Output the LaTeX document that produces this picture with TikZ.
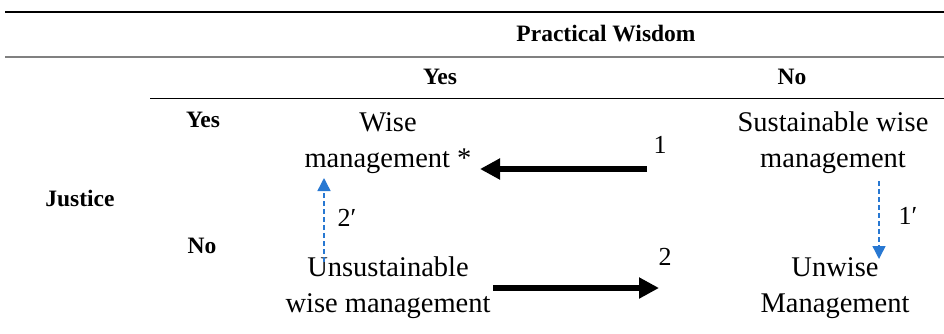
\documentclass[tikz,border=0pt]{standalone}
\usepackage{fontspec}
\setmainfont{Liberation Serif}
\usetikzlibrary{arrows.meta}
\definecolor{dashblue}{RGB}{40,120,210}
\begin{document}
\begin{tikzpicture}[x=1pt,y=-1pt,
  hdr/.style={font=\fontsize{23.5}{26}\selectfont\bfseries, inner sep=0pt},
  cell/.style={font=\fontsize{28.5}{36}\selectfont, align=center, inner sep=0pt},
  num/.style={font=\fontsize{26}{30}\selectfont, inner sep=0pt},
  bigarrow/.style={line width=6pt, -{Triangle[length=20pt,width=20pt]}},
  dasharrow/.style={dash pattern=on 5pt off 3pt, dashblue, line width=1.4pt, -{Triangle[length=13pt,width=13pt]}}]
\useasboundingbox[fill=white] (0,0) rectangle (944,333);
% rules
\draw[line width=2pt] (5,12) -- (944,12);
\draw[line width=1.8pt, gray] (5,57) -- (944,57);
\draw[line width=1pt] (150,98) -- (944,98);
% headers
\node[hdr] (pw) at (606,34) {Practical Wisdom};
\node[hdr] (cyes) at (440,77) {Yes};
\node[hdr] (cno) at (792,77) {No};
\node[hdr] (ryes) at (203,120) {Yes};
\node[hdr] (rno) at (202,246) {No};
\node[hdr] (just) at (80,198) {Justice};
% cells
\node[cell] (wise) at (388,143) {Wise\\management *};
\node[cell] (sust) at (833,143) {Sustainable wise\\management};
\node[cell] (unsust) at (388,288) {Unsustainable\\wise management};
\node[cell] (unwise) at (835,288) {Unwise\\Management};
% numbers
\node[num] (n1) at (660,145) {1};
\node[num] (n2) at (665,257) {2};
\node[num] (n2p) at (347,218) {2′};
\node[num] (n1p) at (908,216) {1′};
% arrow end points
\coordinate (a1s) at (647,169);
\coordinate (a1e) at (480,169);
\coordinate (a2s) at (493,288);
\coordinate (a2e) at (659,288);
\coordinate (b2s) at (324,262);
\coordinate (b2e) at (324,178);
\coordinate (b1s) at (879,181);
\coordinate (b1e) at (879,259);
\draw[bigarrow] (a1s) -- (a1e);
\draw[bigarrow] (a2s) -- (a2e);
\draw[dasharrow] (b2s) -- (b2e);
\draw[dasharrow] (b1s) -- (b1e);
\end{tikzpicture}
\end{document}
